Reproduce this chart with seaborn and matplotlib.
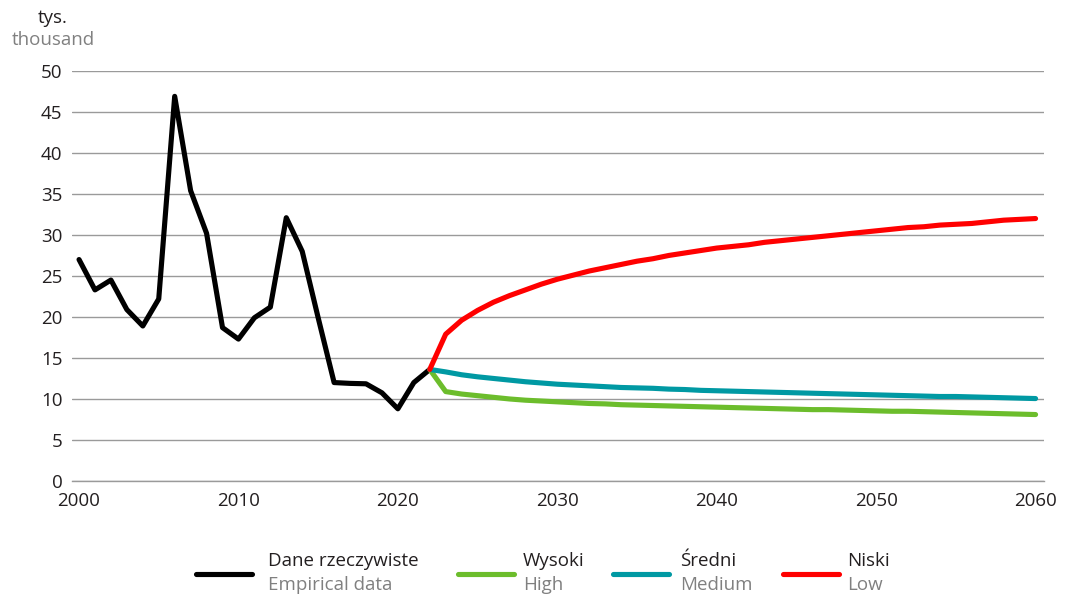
import matplotlib.pyplot as plt
import matplotlib.lines as mlines
import pandas as pd
import seaborn as sns

# empirical data 2000-2022 (thousand)
years_emp = list(range(2000, 2023))
empirical = [27.0, 23.3, 24.5, 20.9, 18.9, 22.2, 46.9, 35.4, 30.2, 18.7,
             17.3, 19.9, 21.2, 32.1, 28.0, 19.9, 12.0, 11.9, 11.85, 10.75,
             8.8, 12.0, 13.6]

# projection variants 2022-2060
years_proj = list(range(2022, 2061))
high = [13.6, 10.9, 10.6, 10.4, 10.2, 10.0, 9.85, 9.75, 9.65, 9.55,
        9.45, 9.4, 9.3, 9.25, 9.2, 9.15, 9.1, 9.05, 9.0, 8.95,
        8.9, 8.85, 8.8, 8.75, 8.7, 8.7, 8.65, 8.6, 8.55, 8.5,
        8.5, 8.45, 8.4, 8.35, 8.3, 8.25, 8.2, 8.15, 8.1]
medium = [13.6, 13.3, 12.95, 12.7, 12.5, 12.3, 12.1, 11.95, 11.8, 11.7,
          11.6, 11.5, 11.4, 11.35, 11.3, 11.2, 11.15, 11.05, 11.0, 10.95,
          10.9, 10.85, 10.8, 10.75, 10.7, 10.65, 10.6, 10.55, 10.5, 10.45,
          10.4, 10.35, 10.3, 10.3, 10.25, 10.2, 10.15, 10.1, 10.05]
low = [13.6, 17.9, 19.6, 20.8, 21.8, 22.6, 23.3, 24.0, 24.6, 25.1,
       25.6, 26.0, 26.4, 26.8, 27.1, 27.5, 27.8, 28.1, 28.4, 28.6,
       28.8, 29.1, 29.3, 29.5, 29.7, 29.9, 30.1, 30.3, 30.5, 30.7,
       30.9, 31.0, 31.2, 31.3, 31.4, 31.6, 31.8, 31.9, 32.0]

series_pl = ["Dane rzeczywiste", "Wysoki", "Średni", "Niski"]
series_en = ["Empirical data", "High", "Medium", "Low"]
colors = ["#000000", "#6cbd2c", "#0099a3", "#ff0000"]

frames = [pd.DataFrame({"year": years_emp, "value": empirical, "series": series_pl[0]})]
for name, vals in zip(series_pl[1:], [high, medium, low]):
    frames.append(pd.DataFrame({"year": years_proj, "value": vals, "series": name}))
df = pd.concat(frames, ignore_index=True)

sns.set_theme(style="white")
plt.rcParams["font.family"] = ["Open Sans", "DejaVu Sans"]

text_dark = "#231f20"
text_gray = "#808080"
grid_gray = "#9a9a9a"
fs = 13.5

fig = plt.figure(figsize=(10.67, 5.96), dpi=100)
ax = fig.add_axes([0.0675, 0.193, 0.9105, 0.688])

sns.lineplot(data=df, x="year", y="value", hue="series", hue_order=series_pl,
             palette=dict(zip(series_pl, colors)), linewidth=3.7, legend=False,
             ax=ax, solid_capstyle="round", solid_joinstyle="round")

ax.set_xlim(1999.56, 2060.5)
ax.set_ylim(0, 50)
ax.set_yticks(range(0, 51, 5))
ax.set_xticks(range(2000, 2061, 10))
ax.yaxis.grid(True, color=grid_gray, linewidth=1.0)
ax.set_axisbelow(True)
for side in ["top", "right", "left"]:
    ax.spines[side].set_visible(False)
ax.spines["bottom"].set_color(grid_gray)
ax.spines["bottom"].set_linewidth(1.0)
ax.tick_params(axis="x", direction="in", length=3, width=0.8, color=grid_gray,
               pad=8, labelsize=fs, labelcolor=text_dark)
ax.tick_params(axis="y", length=0, pad=7, labelsize=fs, labelcolor=text_dark)
ax.set_xlabel("")
ax.set_ylabel("")

fig.text(53 / 1067, 1 - 18 / 596, "tys.", ha="center", va="center",
         fontsize=fs, color=text_dark)
fig.text(53 / 1067, 1 - 40 / 596, "thousand", ha="center", va="center",
         fontsize=fs, color=text_gray)

# legend built by hand: two-tone two-line labels
handle_x = [196, 458, 613, 783]
label_x = [268, 523, 680, 847]
for hx, lx, col, pl, en in zip(handle_x, label_x, colors, series_pl, series_en):
    fig.add_artist(mlines.Line2D([hx / 1067, (hx + 56) / 1067],
                                 [1 - 574 / 596, 1 - 574 / 596],
                                 color=col, linewidth=3.7, solid_capstyle="round"))
    fig.text(lx / 1067, 1 - 561 / 596, pl, ha="left", va="center",
             fontsize=fs, color=text_dark)
    fig.text(lx / 1067, 1 - 585 / 596, en, ha="left", va="center",
             fontsize=fs, color=text_gray)

fig.savefig("out.png", dpi=100)
